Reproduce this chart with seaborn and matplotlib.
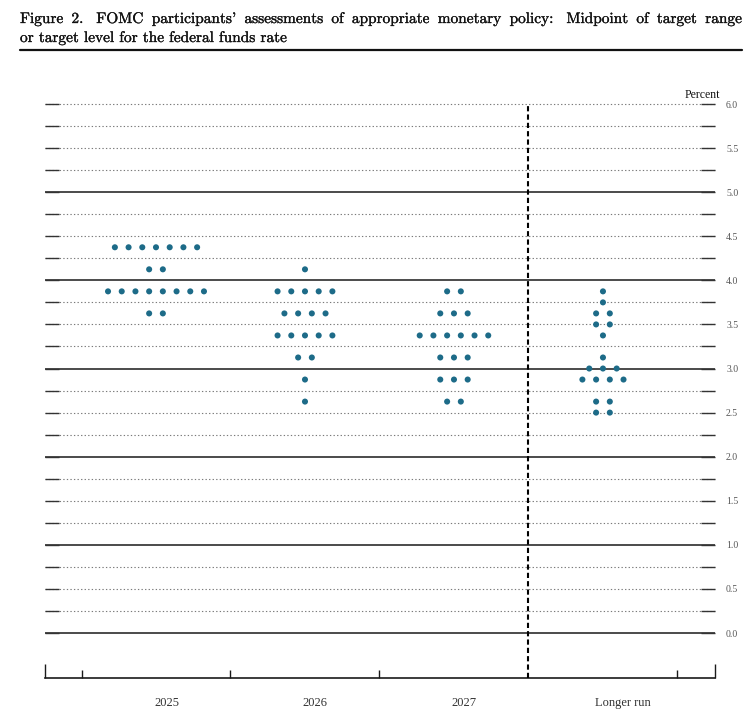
import numpy as np
import pandas as pd
import matplotlib.pyplot as plt
import seaborn as sns
from matplotlib.lines import Line2D
import matplotlib.patheffects as pe

# FOMC dot plot: midpoints of target range, one dot per participant
periods = ["2025", "2026", "2027", "Longer run"]
levels_2025 = [4.375, 4.125, 3.875, 3.625]
counts_2025 = [7, 2, 8, 2]
levels_2026 = [4.125, 3.875, 3.625, 3.375, 3.125, 2.875, 2.625]
counts_2026 = [1, 5, 4, 5, 2, 1, 1]
levels_2027 = [3.875, 3.625, 3.375, 3.125, 2.875, 2.625]
counts_2027 = [2, 3, 6, 3, 3, 2]
levels_longer = [3.875, 3.75, 3.625, 3.5, 3.375, 3.125, 3.0, 2.875, 2.625, 2.5]
counts_longer = [1, 1, 2, 2, 1, 1, 3, 4, 2, 2]

y_ticks = [0.0, 0.5, 1.0, 1.5, 2.0, 2.5, 3.0, 3.5, 4.0, 4.5, 5.0, 5.5, 6.0]

DOT = "#1d6b88"
SPACING = 0.092
XMIN, XMAX = -0.745, 3.752
YMIN, YMAX = -0.51, 6.0

# lay dots out side by side, centred on each column
rows = []
for i, (lv, ct) in enumerate([(levels_2025, counts_2025), (levels_2026, counts_2026),
                               (levels_2027, counts_2027), (levels_longer, counts_longer)]):
    for level, n in zip(lv, ct):
        offs = (np.arange(n) - (n - 1) / 2) * SPACING
        for o in offs:
            rows.append({"period": periods[i], "x": i + o, "rate": level})
df = pd.DataFrame(rows)

sns.set_style("white")
plt.rcParams["font.family"] = ["Liberation Serif", "DejaVu Serif"]

fig = plt.figure(figsize=(7.56, 7.28), dpi=100)
ax = fig.add_axes([45 / 756, 1 - 678 / 728, 670 / 756, 574 / 728])

# horizontal grid: solid at whole percents, dotted at quarters
grid = np.arange(0, 6.01, 0.25)
solid = [g for g in grid if g % 1 == 0 and g < 6]
dotted = [g for g in grid if not (g % 1 == 0 and g < 6)]
ax.hlines(dotted, XMIN, XMAX, colors="#7a7a7a", lw=0.8, linestyles=(0, (1.2, 2.0)), clip_on=False, zorder=1)
ax.hlines(solid, XMIN, XMAX, colors="#1a1a1a", lw=1.1, clip_on=False, zorder=1)
stub = 0.094
ax.hlines(grid, XMIN, XMIN + stub, colors="#333333", lw=1.0, clip_on=False, zorder=2)
ax.hlines(grid, XMAX - stub, XMAX, colors="#333333", lw=1.0, clip_on=False, zorder=2)

ax.vlines(2.5, YMIN, YMAX, colors="black", lw=1.5, linestyles=(0, (2.5, 1.5)), clip_on=False, zorder=3)

sns.scatterplot(data=df, x="x", y="rate", color=DOT, s=19, edgecolor="none",
                legend=False, ax=ax, zorder=4, clip_on=False)

ax.set_xlim(XMIN, XMAX)
ax.set_ylim(YMIN, YMAX)
ax.set_xlabel("")
ax.set_ylabel("")
for side in ["top", "left", "right"]:
    ax.spines[side].set_visible(False)
ax.spines["bottom"].set_color("#1a1a1a")
ax.spines["bottom"].set_linewidth(1.2)

ax.set_xticks([XMIN, XMAX])
ax.set_xticks([-0.5, 0.5, 1.5, 3.5], minor=True)
ax.set_xticklabels([])
ax.tick_params(axis="x", which="major", direction="in", length=10, width=1, color="#1a1a1a", bottom=True)
ax.tick_params(axis="x", which="minor", direction="in", length=5.8, width=1, color="#1a1a1a", bottom=True)

ax.set_yticks(y_ticks)
ax.set_yticklabels([f"{v:.1f}" for v in y_ticks])
ax.tick_params(axis="y", which="both", left=False, right=False, labelleft=False,
               labelright=True, pad=4.5, labelsize=7, labelcolor="#555555")

label_x = [0.074, 1.07, 2.07, 3.135]
for lx, name in zip(label_x, periods):
    ax.annotate(name, xy=(lx, 0), xycoords=("data", "axes fraction"),
                xytext=(0, -18), textcoords="offset points",
                ha="center", va="center", fontsize=9, color="#333333")

fig.text(720 / 756, 1 - 98 / 728, "Percent", ha="right", va="baseline", fontsize=8.5, color="#111111")

# title in computer modern; first line justified across the rule like TeX does
cm = ["cmr10", "DejaVu Serif"]
tkw = dict(family=cm, fontsize=11.05, va="baseline", color="#111111",
           path_effects=[pe.withStroke(linewidth=0.22, foreground="#111111")])
line1 = "Figure 2. FOMC participants' assessments of appropriate monetary policy: Midpoint of target range".split()
renderer = fig.canvas.get_renderer()
items = [fig.text(0, 1 - 23 / 728, wd, **tkw) for wd in line1]
widths = [t.get_window_extent(renderer).width for t in items]
weights = [1.6 if wd.endswith((".", ":")) else 1.0 for wd in line1[:-1]]
gap = (722 - sum(widths)) / sum(weights)
xpos = 20
for t, wd, wt, wgt in zip(items, line1, widths, weights + [0]):
    t.set_x(xpos / 756)
    xpos += wt + gap * wgt
fig.text(20 / 756, 1 - 42 / 728, "or target level for the federal funds rate", **tkw)
fig.add_artist(Line2D([20 / 756, 742 / 756], [1 - 50 / 728] * 2, lw=1.6, color="#111111"))

fig.savefig("out.png", dpi=100)
